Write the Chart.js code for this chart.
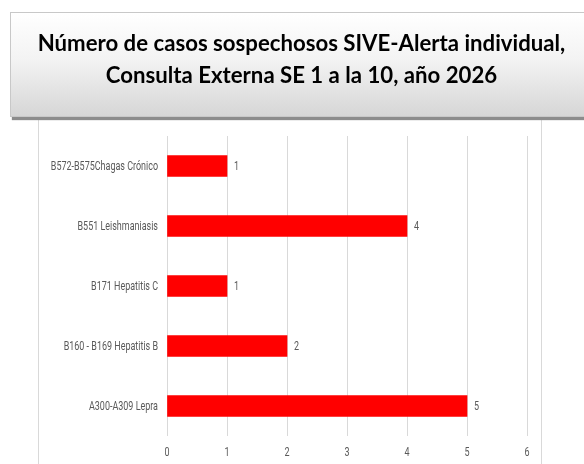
<!DOCTYPE html>
<html>
<head>
<meta charset="utf-8">
<script src="https://cdn.jsdelivr.net/npm/chart.js@4/dist/chart.umd.min.js"></script>
<style>
html,body{margin:0;padding:0;background:#fff;width:584px;height:464px;overflow:hidden;}
#title{position:absolute;left:10px;top:12px;width:600px;height:105px;
 background:linear-gradient(to bottom,#ffffff 0%,#f3f3f3 45%,#d6d6d6 100%);
 border:1px solid #c8c8c8;box-shadow:2px 3px 1px #8c8c8c;
 font-family:'Lato','Open Sans',sans-serif;font-weight:bold;font-size:22.2px;color:#000;
 box-sizing:border-box;}
#title div{position:absolute;left:0;width:581px;text-align:center;white-space:nowrap;}
#wrap{position:absolute;left:38px;top:118px;width:502px;height:346px;border-left:1px solid #d9d9d9;border-right:1px solid #d9d9d9;}
</style>
</head>
<body>
<div id="wrap"><canvas id="c" width="502" height="346"></canvas></div>
<div id="title"><div style="top:16px">Número de casos sospechosos SIVE-Alerta individual,</div><div style="top:48px">Consulta Externa SE 1 a la 10, año 2026</div></div>
<script>
const categories = ["B572-B575Chagas Crónico","B551 Leishmaniasis","B171 Hepatitis C","B160 - B169 Hepatitis B","A300-A309 Lepra"];
const casos = [1,4,1,2,5];
const xTicks = [0,1,2,3,4,5,6];

const labelFont = "13px Roboto, sans-serif";
const squeeze = 0.69;

function drawNarrow(ctx, text, x, y, align){
  ctx.save();
  ctx.translate(x, y);
  ctx.scale(squeeze, 1);
  ctx.textAlign = align;
  ctx.fillText(text, 0, 0);
  ctx.restore();
}

const narrowText = {
  id:'narrowText',
  afterDraw(chart){
    const ctx = chart.ctx;
    ctx.save();
    ctx.fillStyle = '#595959';
    ctx.font = labelFont;
    ctx.textBaseline = 'middle';
    const meta = chart.getDatasetMeta(0);
    meta.data.forEach((bar,i)=>{
      drawNarrow(ctx, String(chart.data.datasets[0].data[i]), bar.x + 7, bar.y + 1, 'left');
    });
    const ys = chart.scales.y;
    categories.forEach((c,i)=>{
      drawNarrow(ctx, c, chart.chartArea.left - 9, ys.getPixelForValue(i) + 1, 'right');
    });
    const xs = chart.scales.x;
    xTicks.forEach(v=>{
      drawNarrow(ctx, String(v), xs.getPixelForValue(v), chart.chartArea.bottom + 17, 'center');
    });
    ctx.restore();
  }
};

new Chart(document.getElementById('c'),{
  type:'bar',
  data:{labels:categories,datasets:[{data:casos,backgroundColor:'#ff0000',borderWidth:0,barThickness:21}]},
  options:{
    indexAxis:'y',
    responsive:false,
    animation:false,
    layout:{padding:{left:0,right:14,top:18,bottom:0}},
    plugins:{legend:{display:false},tooltip:{enabled:false},title:{display:false}},
    scales:{
      x:{min:0,max:6,
        afterBuildTicks(s){s.ticks = xTicks.map(v=>({value:v}));},
        afterFit(s){s.height = 28;},
        grid:{color:'#d9d9d9',lineWidth:1,drawTicks:false},
        border:{display:false},
        ticks:{display:false}
      },
      y:{
        afterFit(s){s.width = 128;},
        grid:{display:false,drawTicks:false},
        border:{display:false},
        ticks:{display:false}
      }
    }
  },
  plugins:[narrowText]
});
</script>
</body>
</html>
